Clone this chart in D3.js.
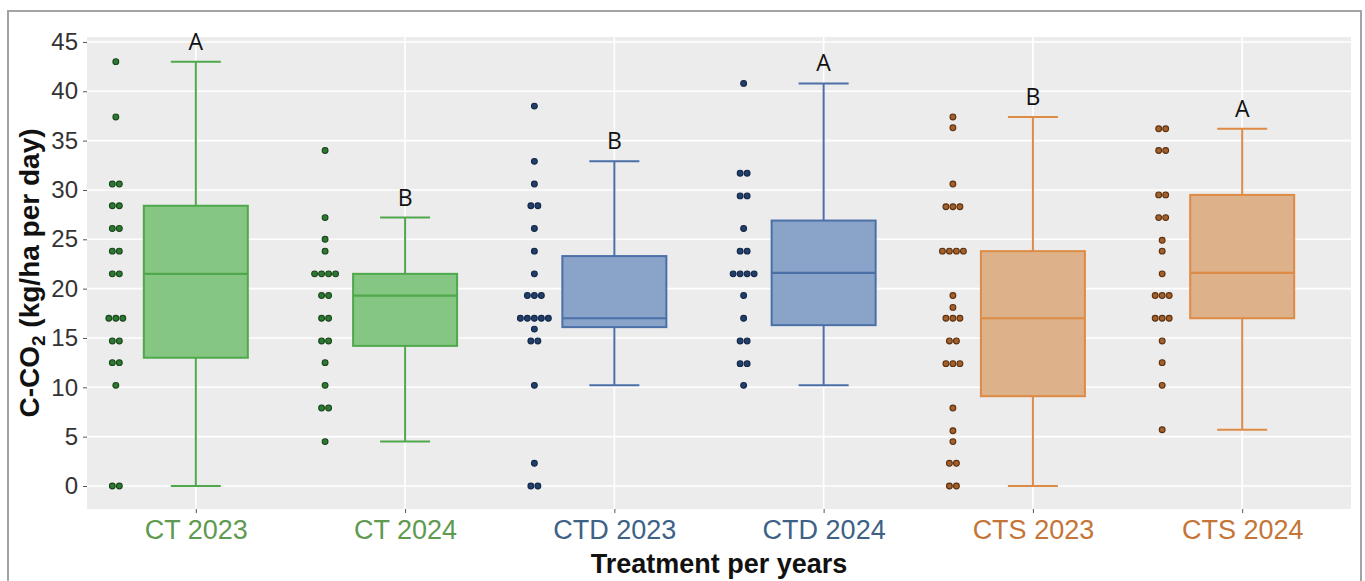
<!DOCTYPE html>
<html>
<head>
<meta charset="utf-8">
<script src="https://cdn.jsdelivr.net/npm/d3@7"></script>
<style>
  body { margin: 0; background: #fff; }
  svg text { font-family: "Liberation Sans", Arial, sans-serif; }
</style>
</head>
<body>
<svg id="chart"></svg>
<script>
  // categories and values
  const categories = ['CT 2023', 'CT 2024', 'CTD 2023', 'CTD 2024', 'CTS 2023', 'CTS 2024'];
  const treatment = ['CT', 'CT', 'CTD', 'CTD', 'CTS', 'CTS'];
  const letters = ['A', 'B', 'B', 'A', 'B', 'A'];

  const whiskerLow = [0, 4.5, 10.2, 10.2, 0, 5.7];
  const q1 = [13.0, 14.2, 16.1, 16.3, 9.1, 17.0];
  const median = [21.5, 19.3, 17.0, 21.6, 17.0, 21.6];
  const q3 = [28.4, 21.5, 23.3, 26.9, 23.8, 29.5];
  const whiskerHigh = [43.0, 27.2, 32.9, 40.8, 37.4, 36.2];

  const obsCT2023 = [43.0, 37.4, 30.6, 30.6, 28.4, 28.4, 26.1, 26.1, 23.8, 23.8, 21.5, 21.5,
    17.0, 17.0, 17.0, 14.7, 14.7, 12.5, 12.5, 10.2, 0, 0];
  const obsCT2024 = [34.0, 27.2, 25.0, 23.8, 21.5, 21.5, 21.5, 21.5, 19.3, 19.3, 17.0, 17.0,
    14.7, 14.7, 12.5, 10.2, 7.9, 7.9, 4.5];
  const obsCTD2023 = [38.5, 32.9, 30.6, 28.4, 28.4, 26.1, 23.8, 21.5, 19.3, 19.3, 19.3,
    17.0, 17.0, 17.0, 17.0, 17.0, 15.9, 14.7, 14.7, 10.2, 2.3, 0, 0];
  const obsCTD2024 = [40.8, 31.7, 31.7, 29.4, 29.4, 26.1, 23.8, 23.8, 21.5, 21.5, 21.5, 21.5,
    19.3, 17.0, 14.7, 14.7, 12.4, 12.4, 10.2];
  const obsCTS2023 = [37.4, 36.3, 30.6, 28.3, 28.3, 28.3, 23.8, 23.8, 23.8, 23.8, 19.3, 18.1,
    17.0, 17.0, 17.0, 14.7, 14.7, 12.4, 12.4, 12.4, 7.9, 5.6, 4.5, 2.3, 2.3, 0, 0];
  const obsCTS2024 = [36.2, 36.2, 34.0, 34.0, 29.5, 29.5, 27.2, 27.2, 24.9, 23.8, 21.5,
    19.3, 19.3, 19.3, 17.0, 17.0, 17.0, 14.7, 12.5, 10.2, 5.7];
  const observations = [obsCT2023, obsCT2024, obsCTD2023, obsCTD2024, obsCTS2023, obsCTS2024];

  const yTicks = [0, 5, 10, 15, 20, 25, 30, 35, 40, 45];

  const palette = {
    CT:  {fill: '#86c683', stroke: '#4fa84c', dot: '#2c7a31', dotStroke: '#1a461c', label: '#5e9a50'},
    CTD: {fill: '#8aa3c9', stroke: '#4b6fa7', dot: '#213f68', dotStroke: '#13274a', label: '#3e6186'},
    CTS: {fill: '#ddb189', stroke: '#dd8b45', dot: '#a4602a', dotStroke: '#5c3110', label: '#c47537'}
  };

  const WIDTH = 1365;
  const HEIGHT = 581;
  const PANEL = {left: 87, right: 1351, top: 37, bottom: 509};

  const svg = d3.select('#chart').attr('width', WIDTH).attr('height', HEIGHT);

  // outer frame
  svg.append('rect')
    .attr('x', 8).attr('y', 11)
    .attr('width', 1353).attr('height', 590)
    .attr('fill', 'none')
    .attr('stroke', '#a3a3a3')
    .attr('stroke-width', 2);

  const x = d3.scalePoint().domain(categories).range([PANEL.left, PANEL.right]).padding(0.52);
  const y = d3.scaleLinear().domain([-2.33, 45.5]).range([PANEL.bottom, PANEL.top]);

  svg.append('rect')
    .attr('x', PANEL.left).attr('y', PANEL.top)
    .attr('width', PANEL.right - PANEL.left).attr('height', PANEL.bottom - PANEL.top)
    .attr('fill', '#ececec');

  // grid
  const grid = svg.append('g');
  grid.selectAll('.hgrid')
    .data(yTicks)
    .enter().append('line')
    .attr('x1', PANEL.left).attr('x2', PANEL.right)
    .attr('y1', d => y(d)).attr('y2', d => y(d))
    .attr('stroke', '#fff').attr('stroke-width', 1.6);
  grid.selectAll('.vgrid')
    .data(categories)
    .enter().append('line')
    .attr('x1', d => x(d)).attr('x2', d => x(d))
    .attr('y1', PANEL.top).attr('y2', PANEL.bottom)
    .attr('stroke', '#fff').attr('stroke-width', 1.6);

  // axes
  const yAxis = svg.append('g')
    .attr('transform', `translate(${PANEL.left},0)`)
    .call(d3.axisLeft(y).tickValues(yTicks).tickSize(4).tickPadding(5).tickSizeOuter(0));
  yAxis.select('.domain').remove();
  yAxis.selectAll('line').attr('stroke', '#555');
  yAxis.selectAll('text').attr('font-size', 24).attr('fill', '#333');

  const xAxis = svg.append('g')
    .attr('transform', `translate(0,${PANEL.bottom})`)
    .call(d3.axisBottom(x).tickSize(4).tickPadding(7).tickSizeOuter(0));
  xAxis.select('.domain').remove();
  xAxis.selectAll('line').attr('stroke', '#555');
  xAxis.selectAll('text')
    .attr('font-size', 27)
    .attr('fill', (d, i) => palette[treatment[i]].label);

  // boxes
  const groups = svg.selectAll('.box')
    .data(categories)
    .enter().append('g')
    .attr('class', 'box')
    .attr('transform', d => `translate(${x(d)},0)`);

  const BOX_HALF = 52;
  const CAP_HALF = 25;

  groups.append('line')
    .attr('y1', (d, i) => y(whiskerLow[i])).attr('y2', (d, i) => y(q1[i]))
    .attr('stroke', (d, i) => palette[treatment[i]].stroke).attr('stroke-width', 2);
  groups.append('line')
    .attr('y1', (d, i) => y(q3[i])).attr('y2', (d, i) => y(whiskerHigh[i]))
    .attr('stroke', (d, i) => palette[treatment[i]].stroke).attr('stroke-width', 2);
  groups.append('line')
    .attr('x1', -CAP_HALF).attr('x2', CAP_HALF)
    .attr('y1', (d, i) => y(whiskerLow[i])).attr('y2', (d, i) => y(whiskerLow[i]))
    .attr('stroke', (d, i) => palette[treatment[i]].stroke).attr('stroke-width', 2);
  groups.append('line')
    .attr('x1', -CAP_HALF).attr('x2', CAP_HALF)
    .attr('y1', (d, i) => y(whiskerHigh[i])).attr('y2', (d, i) => y(whiskerHigh[i]))
    .attr('stroke', (d, i) => palette[treatment[i]].stroke).attr('stroke-width', 2);
  groups.append('rect')
    .attr('x', -BOX_HALF).attr('width', BOX_HALF * 2)
    .attr('y', (d, i) => y(q3[i]))
    .attr('height', (d, i) => y(q1[i]) - y(q3[i]))
    .attr('fill', (d, i) => palette[treatment[i]].fill)
    .attr('stroke', (d, i) => palette[treatment[i]].stroke).attr('stroke-width', 2);
  groups.append('line')
    .attr('x1', -BOX_HALF).attr('x2', BOX_HALF)
    .attr('y1', (d, i) => y(median[i])).attr('y2', (d, i) => y(median[i]))
    .attr('stroke', (d, i) => palette[treatment[i]].stroke).attr('stroke-width', 2.2);

  groups.append('text')
    .attr('y', (d, i) => y(whiskerHigh[i]) - 12)
    .attr('text-anchor', 'middle')
    .style('font-family', '"Open Sans", sans-serif')
    .attr('font-size', 23)
    .attr('fill', '#111')
    .text((d, i) => letters[i]);

  // observations, dots with equal value set side by side left of the box
  const DOT_OFFSET = -80;
  const DOT_GAP = 7;
  categories.forEach((cat, i) => {
    const counts = d3.rollup(observations[i], v => v.length, v => v);
    const seen = new Map();
    const pts = observations[i].map(v => {
      const k = seen.get(v) || 0;
      seen.set(v, k + 1);
      const n = counts.get(v);
      return {value: v, dx: DOT_OFFSET + (k - (n - 1) / 2) * DOT_GAP};
    });
    svg.append('g')
      .selectAll('circle')
      .data(pts)
      .enter().append('circle')
      .attr('cx', d => x(cat) + d.dx)
      .attr('cy', d => y(d.value))
      .attr('r', 2.9)
      .attr('fill', palette[treatment[i]].dot)
      .attr('stroke', palette[treatment[i]].dotStroke)
      .attr('stroke-width', 1.1);
  });

  // titles
  svg.append('text')
    .attr('x', (PANEL.left + PANEL.right) / 2)
    .attr('y', 573)
    .attr('text-anchor', 'middle')
    .attr('font-size', 27)
    .attr('font-weight', 'bold')
    .attr('fill', '#111')
    .text('Treatment per years');

  const yTitle = svg.append('text')
    .attr('transform', `translate(39,${(PANEL.top + PANEL.bottom) / 2}) rotate(-90)`)
    .attr('text-anchor', 'middle')
    .attr('font-size', 28)
    .attr('font-weight', 'bold')
    .attr('fill', '#111');
  yTitle.append('tspan').text('C-CO');
  yTitle.append('tspan').attr('font-size', 19).attr('dy', 6).text('2');
  yTitle.append('tspan').attr('dy', -6).text(' (kg/ha per day)');
</script>
</body>
</html>
